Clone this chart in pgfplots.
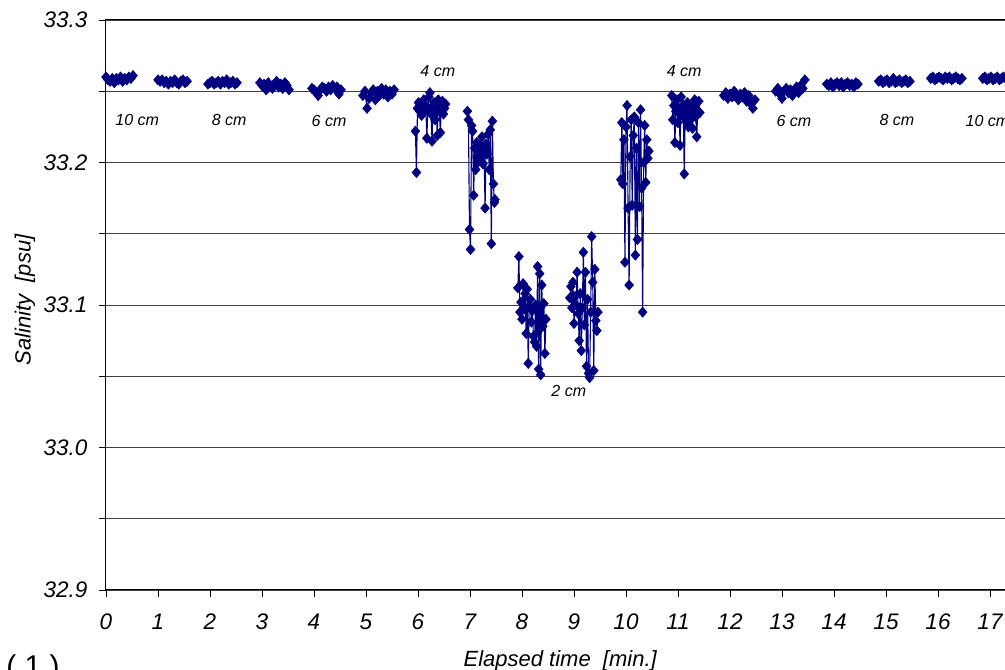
\documentclass[border=0pt]{standalone}
\usepackage{fontspec}
\setmainfont{Liberation Sans}
\usepackage{pgfplots}
\pgfplotsset{compat=1.18}
\definecolor{navy}{RGB}{0,0,128}
\pgfplotsset{dat/.style={navy, line width=1.1pt, mark=diamond*, mark size=5.2pt, mark options={solid, fill=navy, draw=navy, line width=0.4pt, xscale=1.15}}}
\begin{document}
\begin{tikzpicture}[x=1pt,y=1pt]
\useasboundingbox (0,0) rectangle (1005,670);
\begin{axis}[
 at={(106pt,80pt)}, anchor=south west,
 scale only axis, width=904.8pt, height=570pt,
 xmin=0, xmax=17.4, ymin=32.9, ymax=33.3,
 xtick={0,...,17}, ytick={32.9,33.0,33.1,33.2,33.3},
 yticklabels={32.9,33.0,33.1,33.2,33.3},
 minor ytick={32.95,33.05,33.15,33.25},
 ymajorgrids, yminorgrids,
 grid style={black!75, line width=0.8pt},
 minor grid style={black!75, line width=0.8pt},
 tick align=outside, tick pos=left,
 major tick length=7pt, minor tick length=7pt,
 tick style={black, line width=0.8pt},
 axis line style={black, line width=1pt},
 /pgf/number format/assume math mode=true,
 ticklabel style={font=\fontsize{22.5}{24}\selectfont\itshape},
 xticklabel style={yshift=-13pt},
 yticklabel style={xshift=-8pt},
 xlabel={Elapsed time\ \ [min.]},
 ylabel={Salinity\ \ [psu]},
 label style={font=\fontsize{22}{24}\selectfont\itshape},
 xlabel style={at={(axis description cs:0.502,-0.1)}, anchor=north},
 ylabel style={at={(axis description cs:-0.0895,0.509)}, anchor=center},
]
% 10 cm
\addplot[dat] coordinates {(0.00,33.260) (0.04,33.258) (0.08,33.257) (0.12,33.259) (0.16,33.256) (0.20,33.259) (0.24,33.258) (0.28,33.260) (0.32,33.257) (0.36,33.259) (0.40,33.258) (0.44,33.260) (0.48,33.259) (0.52,33.261)};
\addplot[dat] coordinates {(1.00,33.258) (1.04,33.257) (1.08,33.258) (1.12,33.256) (1.16,33.257) (1.20,33.255) (1.24,33.257) (1.28,33.256) (1.32,33.258) (1.36,33.256) (1.40,33.255) (1.44,33.257) (1.48,33.258) (1.52,33.256) (1.56,33.257)};
% 8 cm
\addplot[dat] coordinates {(1.96,33.255) (2.00,33.256) (2.04,33.257) (2.08,33.255) (2.12,33.256) (2.16,33.257) (2.20,33.255) (2.24,33.257) (2.28,33.256) (2.32,33.258) (2.36,33.255) (2.40,33.256) (2.44,33.257) (2.48,33.255) (2.52,33.256)};
\addplot[dat] coordinates {(2.96,33.256) (3.00,33.254) (3.04,33.255) (3.08,33.251) (3.12,33.256) (3.16,33.254) (3.20,33.252) (3.24,33.255) (3.28,33.257) (3.32,33.253) (3.36,33.255) (3.40,33.252) (3.44,33.256) (3.48,33.254) (3.52,33.251)};
% 6 cm
\addplot[dat] coordinates {(3.96,33.252) (4.00,33.251) (4.04,33.249) (4.08,33.247) (4.12,33.251) (4.16,33.253) (4.20,33.252) (4.24,33.250) (4.28,33.253) (4.32,33.251) (4.36,33.254) (4.40,33.252) (4.44,33.253) (4.48,33.248) (4.52,33.251)};
\addplot[dat] coordinates {(4.94,33.247) (4.98,33.250) (5.02,33.238) (5.06,33.245) (5.10,33.249) (5.14,33.251) (5.18,33.244) (5.22,33.250) (5.26,33.247) (5.30,33.252) (5.34,33.248) (5.38,33.251) (5.42,33.246) (5.46,33.250) (5.50,33.248) (5.54,33.251)};
% 4 cm
\addplot[dat] coordinates {(5.95,33.222) (5.97,33.193) (5.99,33.238) (6.01,33.242) (6.03,33.236) (6.05,33.240) (6.07,33.233) (6.09,33.238) (6.11,33.244) (6.13,33.236) (6.15,33.240) (6.17,33.217) (6.19,33.238) (6.21,33.246) (6.23,33.249) (6.25,33.234) (6.27,33.215) (6.29,33.240) (6.31,33.242) (6.33,33.230) (6.35,33.238) (6.37,33.219) (6.39,33.244) (6.41,33.236) (6.43,33.221) (6.45,33.240) (6.47,33.243) (6.49,33.234) (6.51,33.238) (6.53,33.241)};
\addplot[dat] coordinates {(6.95,33.236) (6.97,33.230) (6.99,33.153) (7.01,33.139) (7.03,33.226) (7.05,33.222) (7.07,33.177) (7.09,33.210) (7.11,33.195) (7.13,33.214) (7.15,33.200) (7.17,33.208) (7.19,33.212) (7.21,33.203) (7.23,33.218) (7.25,33.199) (7.27,33.208) (7.29,33.168) (7.31,33.213) (7.33,33.206) (7.35,33.220) (7.37,33.195) (7.39,33.223) (7.41,33.143) (7.43,33.229) (7.45,33.185) (7.47,33.172) (7.48,33.174)};
% 2 cm
\addplot[dat] coordinates {(7.92,33.112) (7.94,33.134) (7.96,33.095) (7.98,33.102) (8.00,33.090) (8.02,33.115) (8.04,33.097) (8.06,33.108) (8.08,33.080) (8.10,33.111) (8.12,33.059) (8.14,33.099) (8.16,33.104) (8.18,33.088) (8.20,33.096) (8.22,33.078) (8.24,33.074) (8.26,33.100) (8.28,33.071) (8.30,33.127) (8.32,33.055) (8.34,33.122) (8.36,33.051) (8.38,33.114) (8.40,33.085) (8.42,33.101) (8.44,33.066) (8.46,33.090)};
\addplot[dat] coordinates {(8.92,33.105) (8.94,33.113) (8.96,33.098) (8.98,33.116) (9.00,33.087) (9.02,33.106) (9.04,33.100) (9.06,33.123) (9.08,33.094) (9.10,33.075) (9.12,33.108) (9.14,33.068) (9.16,33.098) (9.18,33.137) (9.20,33.086) (9.22,33.123) (9.24,33.057) (9.26,33.104) (9.28,33.052) (9.30,33.049) (9.32,33.095) (9.34,33.148) (9.36,33.116) (9.38,33.054) (9.40,33.125) (9.42,33.089) (9.44,33.082) (9.46,33.095)};
% 4 cm
\addplot[dat] coordinates {(9.90,33.188) (9.92,33.228) (9.94,33.185) (9.96,33.216) (9.98,33.130) (10.00,33.225) (10.02,33.240) (10.04,33.168) (10.06,33.114) (10.08,33.204) (10.10,33.230) (10.12,33.170) (10.14,33.219) (10.16,33.232) (10.18,33.135) (10.20,33.210) (10.22,33.146) (10.24,33.228) (10.26,33.169) (10.28,33.237) (10.30,33.182) (10.32,33.095) (10.34,33.200) (10.36,33.226) (10.38,33.186) (10.40,33.216) (10.42,33.203) (10.44,33.208)};
\addplot[dat] coordinates {(10.88,33.247) (10.90,33.230) (10.92,33.240) (10.94,33.214) (10.96,33.236) (10.98,33.244) (11.00,33.228) (11.02,33.238) (11.04,33.212) (11.06,33.246) (11.08,33.233) (11.10,33.240) (11.12,33.192) (11.14,33.236) (11.16,33.229) (11.18,33.242) (11.20,33.225) (11.22,33.238) (11.24,33.230) (11.26,33.234) (11.28,33.224) (11.30,33.240) (11.32,33.244) (11.34,33.232) (11.36,33.218) (11.38,33.236) (11.40,33.243) (11.42,33.235)};
% 6 cm
\addplot[dat] coordinates {(11.88,33.247) (11.92,33.249) (11.96,33.245) (12.00,33.248) (12.04,33.246) (12.08,33.250) (12.12,33.247) (12.16,33.244) (12.20,33.248) (12.24,33.246) (12.28,33.249) (12.32,33.243) (12.36,33.247) (12.40,33.241) (12.44,33.238) (12.48,33.244)};
\addplot[dat] coordinates {(12.88,33.250) (12.92,33.252) (12.96,33.248) (13.00,33.245) (13.04,33.250) (13.08,33.252) (13.12,33.249) (13.16,33.251) (13.20,33.247) (13.24,33.250) (13.28,33.253) (13.32,33.249) (13.36,33.254) (13.40,33.252) (13.44,33.258)};
% 8 cm
\addplot[dat] coordinates {(13.86,33.255) (13.90,33.254) (13.94,33.256) (13.98,33.253) (14.02,33.255) (14.06,33.256) (14.10,33.254) (14.14,33.256) (14.18,33.253) (14.22,33.255) (14.26,33.256) (14.30,33.254) (14.34,33.255) (14.38,33.253) (14.42,33.256) (14.46,33.255)};
\addplot[dat] coordinates {(14.86,33.257) (14.90,33.258) (14.94,33.256) (14.98,33.257) (15.02,33.258) (15.06,33.256) (15.10,33.257) (15.14,33.259) (15.18,33.256) (15.22,33.257) (15.26,33.258) (15.30,33.256) (15.34,33.257) (15.38,33.258) (15.42,33.256) (15.46,33.257)};
% 10 cm
\addplot[dat] coordinates {(15.86,33.259) (15.90,33.260) (15.94,33.258) (15.98,33.259) (16.02,33.260) (16.06,33.259) (16.10,33.258) (16.14,33.260) (16.18,33.259) (16.22,33.260) (16.26,33.258) (16.30,33.259) (16.34,33.260) (16.38,33.259) (16.42,33.258) (16.46,33.259)};
\addplot[dat] coordinates {(16.86,33.259) (16.90,33.260) (16.94,33.258) (16.98,33.259) (17.02,33.260) (17.06,33.258) (17.10,33.259) (17.14,33.260) (17.18,33.258) (17.22,33.259) (17.26,33.260) (17.30,33.259) (17.34,33.258) (17.38,33.259)};
% depth labels
\begin{scope}[every node/.style={font=\fontsize{16}{18}\selectfont\itshape, inner sep=0pt}]
\node at (axis cs:0.60,33.230) {10 cm};
\node at (axis cs:2.37,33.230) {8 cm};
\node at (axis cs:4.29,33.229) {6 cm};
\node at (axis cs:6.38,33.264) {4 cm};
\node at (axis cs:8.90,33.040) {2 cm};
\node at (axis cs:11.12,33.264) {4 cm};
\node at (axis cs:13.23,33.229) {6 cm};
\node at (axis cs:15.21,33.230) {8 cm};
\node at (axis cs:16.95,33.229) {10 cm};
\end{scope}
\end{axis}
\node[anchor=north, font=\fontsize{30}{32}\selectfont, inner sep=0pt] at (33,15) {( 1 )};
\end{tikzpicture}
\end{document}
